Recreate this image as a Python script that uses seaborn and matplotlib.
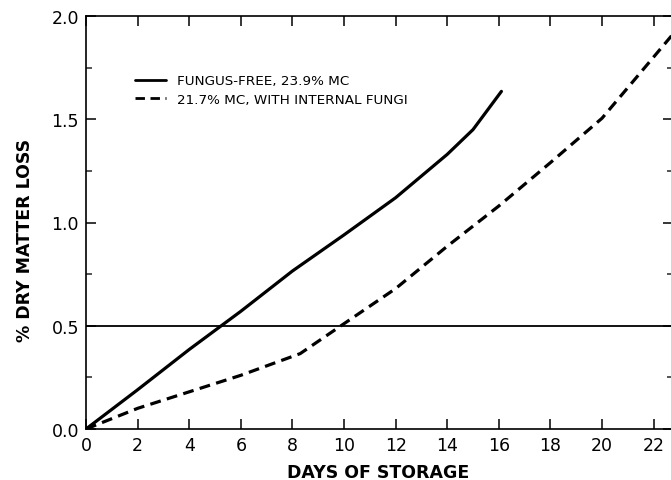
import matplotlib
matplotlib.use("Agg")
import matplotlib.pyplot as plt
from matplotlib.ticker import MultipleLocator
import seaborn as sns
import pandas as pd

# ---- data ----
label_free = "FUNGUS-FREE, 23.9% MC"
label_fungi = "21.7% MC, WITH INTERNAL FUNGI"

free_days = [0, 1, 2, 4, 6, 8, 10, 12, 14, 15, 16.1]
free_loss = [0, 0.095, 0.19, 0.385, 0.57, 0.765, 0.94, 1.12, 1.33, 1.45, 1.635]

fungi_days = [0, 2, 4, 6, 8.3, 10, 12, 14, 16, 18, 20, 22.8]
fungi_loss = [0, 0.10, 0.18, 0.26, 0.365, 0.51, 0.68, 0.885, 1.08, 1.29, 1.505, 1.92]

ref_level = 0.5
x_ticks = list(range(0, 24, 2))
y_ticks = [0.0, 0.5, 1.0, 1.5, 2.0]

df = pd.concat([
    pd.DataFrame({"days": free_days, "loss": free_loss, "series": label_free}),
    pd.DataFrame({"days": fungi_days, "loss": fungi_loss, "series": label_fungi}),
])

sns.set_style("ticks")
plt.rcParams["font.family"] = ["DejaVu Sans"]
plt.rcParams["text.color"] = "black"
plt.rcParams["axes.labelcolor"] = "black"

fig = plt.figure(figsize=(6.71, 4.81), dpi=100)
ax = fig.add_axes([86 / 671, 51 / 481, (673 - 86) / 671, (430 - 17) / 481])

sns.lineplot(
    data=df, x="days", y="loss", hue="series", style="series",
    palette={label_free: "black", label_fungi: "black"},
    dashes={label_free: "", label_fungi: (3.4, 2.0)},
    linewidth=2.3, sort=False, ax=ax, legend=True,
)
ax.axhline(ref_level, color="black", linewidth=1.3, zorder=1)

ax.set_xlim(0, 22.75)
ax.set_ylim(0, 2.0)
ax.set_xticks(x_ticks)
ax.set_xticklabels([str(t) for t in x_ticks])
ax.set_yticks(y_ticks)
ax.set_yticklabels([f"{t:.1f}" for t in y_ticks])
ax.yaxis.set_minor_locator(MultipleLocator(0.25))

ax.tick_params(axis="both", which="major", direction="in", length=7, width=1.1,
               top=True, right=True, labelsize=12.5, pad=5, colors="black")
ax.tick_params(axis="y", which="minor", direction="in", length=4, width=1.1,
               left=True, right=True)
for s in ax.spines.values():
    s.set_linewidth(1.2)
    s.set_color("black")

ax.set_xlabel("DAYS OF STORAGE", fontsize=12.5, fontweight="bold")
ax.set_ylabel("% DRY MATTER LOSS", fontsize=12.5, fontweight="bold")
ax.xaxis.set_label_coords(0.497, -0.082)
ax.yaxis.set_label_coords(-0.088, 0.46)

leg = ax.legend(loc="upper left", bbox_to_anchor=(0.075, 0.872), frameon=False,
                fontsize=9.7, handlelength=2.3, handletextpad=0.8, labelspacing=0.4,
                borderaxespad=0)
for line in leg.get_lines():
    line.set_linewidth(2.0)
for t in leg.get_texts():
    t.set_color("black")

fig.savefig("out.png", dpi=100)
